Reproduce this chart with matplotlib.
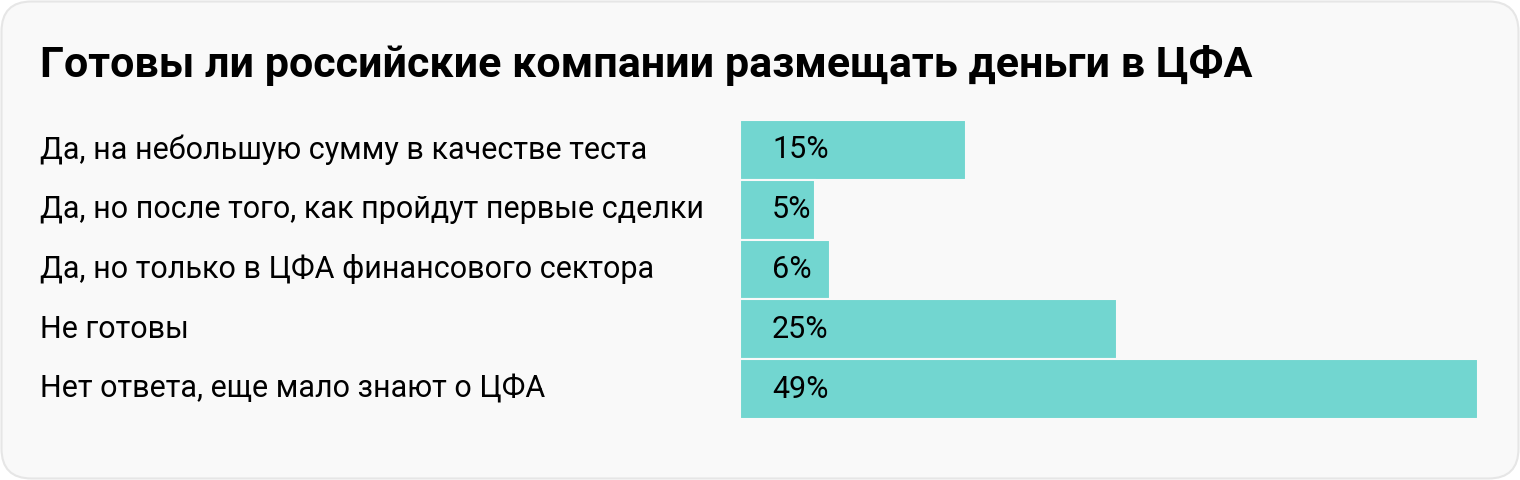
import matplotlib.pyplot as plt
import matplotlib.transforms as mtransforms
from matplotlib.patches import FancyBboxPatch

plt.rcParams['font.family'] = ['Roboto', 'DejaVu Sans']

title = 'Готовы ли российские компании размещать деньги в ЦФА'
answers = [
    'Да, на небольшую сумму в качестве теста',
    'Да, но после того, как пройдут первые сделки',
    'Да, но только в ЦФА финансового сектора',
    'Не готовы',
    'Нет ответа, еще мало знают о ЦФА',
]
shares = [15, 5, 6, 25, 49]

W, H = 1520, 480
fig = plt.figure(figsize=(W / 100, H / 100), dpi=100)
fig.patch.set_facecolor('white')

# background card
bg = fig.add_axes([0, 0, 1, 1])
bg.set_xlim(0, W)
bg.set_ylim(H, 0)
bg.axis('off')
card = FancyBboxPatch((1.5, 1.5), W - 3, H - 3,
                      boxstyle='round,pad=0,rounding_size=30',
                      facecolor='#f9f9f9', edgecolor='#e6e6e6', linewidth=1.5)
bg.add_patch(card)
bg.text(40, 66, title, fontsize=31, fontweight='bold', color='#000000',
        va='center', ha='left')

# bars: x 740..1478 px, y 120..419 px
x0, x1 = 740, 1478
y0, y1 = 120, 419
ax = fig.add_axes([x0 / W, 1 - y1 / H, (x1 - x0) / W, (y1 - y0) / H])
ax.set_xlim(0, 49)
ax.set_ylim(len(shares) - 0.5, -0.5)
ax.axis('off')
ypos = range(len(shares))
ax.barh(ypos, shares, height=1.0, color='#72d6d0', edgecolor='#f9f9f9', linewidth=1.5)

trans = mtransforms.blended_transform_factory(fig.transFigure, ax.transData)
for i, (lab, v) in enumerate(zip(answers, shares)):
    ax.text(40 / W, i, lab, transform=trans, fontsize=22, color='#000000',
            va='center', ha='left')
    ax.text(772 / W, i, f'{v}%', transform=trans, fontsize=22, color='#000000',
            va='center', ha='left')

fig.savefig('out.png', dpi=100, facecolor='white')
